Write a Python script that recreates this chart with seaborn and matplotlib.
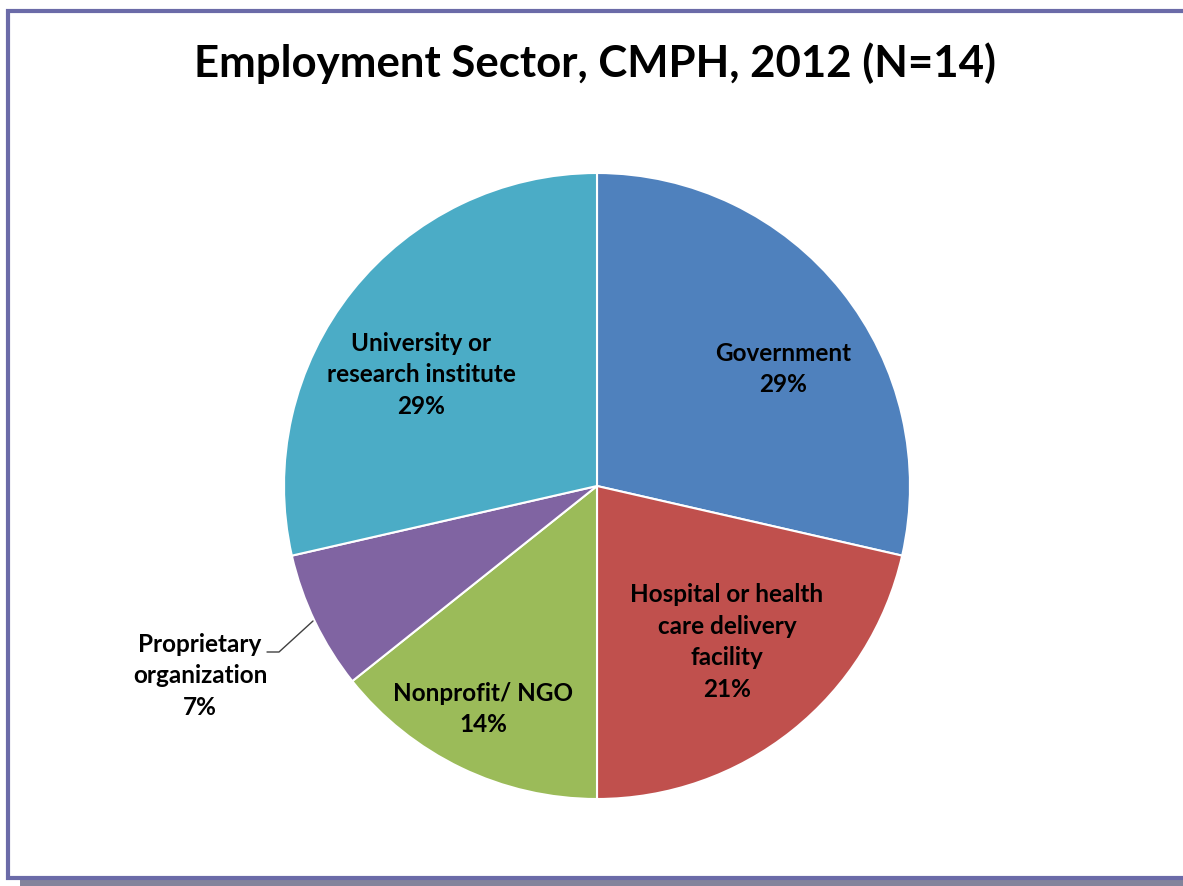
import matplotlib
matplotlib.use("Agg")
import matplotlib.pyplot as plt
from matplotlib.patches import Rectangle
import seaborn as sns

sns.set_theme(style="white")
plt.rcParams['font.family'] = ['Lato', 'DejaVu Sans']

categories = ["Government", "Hospital or health care delivery facility", "Nonprofit/ NGO",
              "Proprietary organization", "University or research institute"]
label_texts = ["Government", "Hospital or health\ncare delivery\nfacility", "Nonprofit/ NGO",
               "Proprietary\norganization", "University or\nresearch institute"]
counts = [4, 3, 2, 1, 4]
colors = ["#4F81BD", "#C0504D", "#9BBB59", "#8064A2", "#4BACC6"]
title = "Employment Sector, CMPH, 2012 (N=14)"

W, H = 1183, 886
fig = plt.figure(figsize=(W / 100, H / 100), dpi=100)
fig.patch.set_facecolor("white")

# frame and shadow
fig.patches.append(Rectangle((20 / W, 0), (W - 20) / W, 8 / H, transform=fig.transFigure,
                             facecolor="#83839B", edgecolor="none", zorder=0))
fig.patches.append(Rectangle((7.5 / W, (H - 877.5) / H), (W + 20) / W, (877.5 - 10.5) / H,
                             transform=fig.transFigure, facecolor="white",
                             edgecolor="#6B6BA8", linewidth=3, zorder=1))

cx, cy, r = 597, 486, 313
ax = fig.add_axes([(cx - r) / W, (H - cy - r) / H, 2 * r / W, 2 * r / H])
ax.set_zorder(2)
wedges, _ = ax.pie(counts, colors=colors, startangle=90, counterclock=False, radius=1,
                   wedgeprops=dict(edgecolor="white", linewidth=1.5))
ax.set_xlim(-1, 1)
ax.set_ylim(-1, 1)
ax.axis("off")

total = sum(counts)
pcts = [f"{round(c / total * 100)}%" for c in counts]
label_pos = [(0.594, 0.374), (0.415, -0.498), (-0.364, -0.712), (-1.268, -0.607), (-0.562, 0.355)]
for (x, y), lab, p in zip(label_pos, label_texts, pcts):
    ax.text(x, y, f"{lab}\n{p}", ha="center", va="center", fontsize=17.5, fontweight="bold",
            color="black", linespacing=1.45, clip_on=False)

# leader line for proprietary
ax.plot([(267 - cx) / r, (279 - cx) / r, (313 - cx) / r],
        [-(652 - cy) / r, -(652 - cy) / r, -(621 - cy) / r],
        color="#404040", linewidth=1, clip_on=False)

fig.text(595 / W, (H - 63) / H, title, ha="center", va="center", fontsize=31.5,
         fontweight="bold", color="black", zorder=3)

fig.savefig("out.png", dpi=100)
